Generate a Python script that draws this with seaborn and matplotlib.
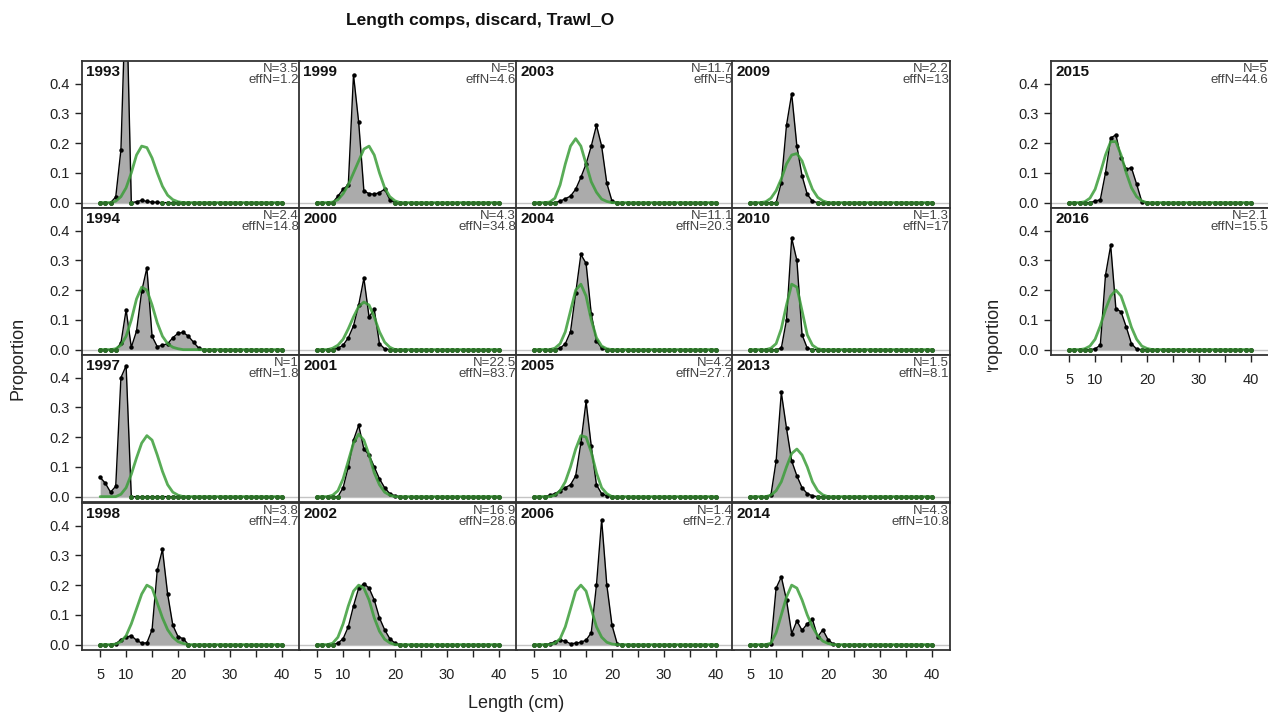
import matplotlib
matplotlib.use("Agg")
import pandas as pd
import matplotlib.pyplot as plt
import seaborn as sns

# Length bins (cm)
bins = list(range(5, 41))

# Panel layout: columns of years, plus the two extra years on the right
col_years = [[1993, 1994, 1997, 1998],
             [1999, 2000, 2001, 2002],
             [2003, 2004, 2005, 2006],
             [2009, 2010, 2013, 2014]]
right_years = [2015, 2016]

n_labels = {1993: "3.5", 1994: "2.4", 1997: "1", 1998: "3.8",
            1999: "5", 2000: "4.3", 2001: "22.5", 2002: "16.9",
            2003: "11.7", 2004: "11.1", 2005: "4.2", 2006: "1.4",
            2009: "2.2", 2010: "1.3", 2013: "1.5", 2014: "4.3",
            2015: "5", 2016: "2.1"}
effn_labels = {1993: "1.2", 1994: "14.8", 1997: "1.8", 1998: "4.7",
               1999: "4.6", 2000: "34.8", 2001: "83.7", 2002: "28.6",
               2003: "5", 2004: "20.3", 2005: "27.7", 2006: "2.7",
               2009: "13", 2010: "17", 2013: "8.1", 2014: "10.8",
               2015: "44.6", 2016: "15.5"}

# Observed proportions: (first bin, values from that bin on; rest are zero)
obs = {
    1993: (8, [0.019, 0.177, 0.75, 0.0, 0.003, 0.008, 0.004, 0.002, 0.001]),
    1994: (9, [0.022, 0.134, 0.008, 0.062, 0.196, 0.275, 0.045, 0.010, 0.015,
               0.020, 0.040, 0.055, 0.058, 0.045, 0.025, 0.005]),
    1997: (5, [0.065, 0.045, 0.015, 0.035, 0.40, 0.44]),
    1998: (8, [0.003, 0.017, 0.025, 0.030, 0.015, 0.005, 0.006, 0.050, 0.25,
               0.32, 0.17, 0.065, 0.027, 0.020]),
    1999: (9, [0.022, 0.045, 0.060, 0.43, 0.27, 0.040, 0.030, 0.028, 0.034,
               0.045, 0.010]),
    2000: (9, [0.005, 0.015, 0.040, 0.080, 0.150, 0.24, 0.110, 0.135, 0.020,
               0.003]),
    2001: (10, [0.030, 0.100, 0.190, 0.24, 0.160, 0.140, 0.100, 0.060, 0.030,
                0.010, 0.003]),
    2002: (9, [0.005, 0.020, 0.060, 0.130, 0.190, 0.205, 0.190, 0.150, 0.090,
               0.050, 0.020, 0.005]),
    2003: (10, [0.005, 0.013, 0.022, 0.045, 0.085, 0.130, 0.190, 0.26, 0.190,
                0.065, 0.005]),
    2004: (10, [0.005, 0.020, 0.060, 0.190, 0.32, 0.29, 0.120, 0.030, 0.005]),
    2005: (8, [0.005, 0.010, 0.020, 0.030, 0.040, 0.070, 0.180, 0.32, 0.170,
               0.040, 0.010, 0.003]),
    2006: (8, [0.003, 0.010, 0.015, 0.012, 0.003, 0.005, 0.008, 0.015, 0.040,
               0.20, 0.42, 0.20, 0.065, 0.003]),
    2009: (10, [0.0, 0.067, 0.26, 0.366, 0.19, 0.090, 0.028, 0.005]),
    2010: (11, [0.005, 0.100, 0.375, 0.30, 0.050, 0.005]),
    2013: (9, [0.005, 0.120, 0.35, 0.230, 0.120, 0.070, 0.030, 0.010, 0.003]),
    2014: (9, [0.003, 0.19, 0.228, 0.150, 0.037, 0.080, 0.048, 0.070, 0.085,
               0.026, 0.050, 0.017, 0.002]),
    2015: (10, [0.005, 0.010, 0.100, 0.217, 0.228, 0.150, 0.113, 0.117, 0.062,
                0.003]),
    2016: (10, [0.003, 0.015, 0.25, 0.35, 0.138, 0.127, 0.076, 0.020, 0.002]),
}

# Expected proportions (model fit)
exp = {
    1993: (8, [0.005, 0.02, 0.05, 0.10, 0.16, 0.19, 0.185, 0.15, 0.10, 0.055,
               0.025, 0.01, 0.003]),
    1994: (8, [0.003, 0.015, 0.045, 0.10, 0.17, 0.21, 0.20, 0.15, 0.09, 0.045,
               0.02, 0.008, 0.003]),
    1997: (9, [0.008, 0.03, 0.075, 0.13, 0.18, 0.205, 0.19, 0.14, 0.085, 0.04,
               0.015, 0.005]),
    1998: (8, [0.002, 0.01, 0.03, 0.07, 0.12, 0.17, 0.20, 0.19, 0.14, 0.09,
               0.05, 0.025, 0.01, 0.004]),
    1999: (8, [0.002, 0.01, 0.03, 0.06, 0.10, 0.14, 0.18, 0.19, 0.16, 0.10,
               0.05, 0.02, 0.006]),
    2000: (8, [0.005, 0.015, 0.035, 0.07, 0.11, 0.145, 0.16, 0.15, 0.11, 0.06,
               0.025, 0.008]),
    2001: (8, [0.005, 0.02, 0.06, 0.12, 0.18, 0.21, 0.19, 0.14, 0.08, 0.04,
               0.015, 0.005]),
    2002: (8, [0.005, 0.025, 0.07, 0.13, 0.18, 0.20, 0.19, 0.15, 0.09, 0.045,
               0.018, 0.006]),
    2003: (8, [0.002, 0.015, 0.06, 0.13, 0.19, 0.215, 0.19, 0.13, 0.07, 0.035,
               0.012, 0.004]),
    2004: (9, [0.005, 0.02, 0.06, 0.13, 0.20, 0.22, 0.18, 0.10, 0.04, 0.012,
               0.003]),
    2005: (9, [0.005, 0.02, 0.05, 0.10, 0.16, 0.205, 0.20, 0.15, 0.08, 0.03,
               0.01]),
    2006: (9, [0.005, 0.02, 0.06, 0.12, 0.18, 0.20, 0.18, 0.12, 0.06, 0.025,
               0.008, 0.002]),
    2009: (8, [0.003, 0.015, 0.04, 0.08, 0.13, 0.16, 0.165, 0.14, 0.09, 0.045,
               0.018, 0.006]),
    2010: (9, [0.005, 0.02, 0.07, 0.15, 0.22, 0.21, 0.13, 0.05, 0.015, 0.003]),
    2013: (9, [0.005, 0.02, 0.05, 0.10, 0.145, 0.16, 0.14, 0.10, 0.05, 0.02,
               0.006]),
    2014: (9, [0.005, 0.04, 0.10, 0.16, 0.20, 0.19, 0.15, 0.10, 0.06, 0.03,
               0.012, 0.004]),
    2015: (8, [0.003, 0.015, 0.045, 0.10, 0.16, 0.205, 0.205, 0.16, 0.10, 0.05,
               0.02, 0.006]),
    2016: (8, [0.003, 0.012, 0.035, 0.08, 0.135, 0.18, 0.20, 0.18, 0.13, 0.075,
               0.035, 0.012, 0.004]),
}


def full(start, vals):
    out = [0.0] * len(bins)
    for i, v in enumerate(vals):
        out[start - bins[0] + i] = v
    return out


sns.set_style("white")
plt.rcParams['font.family'] = ['Liberation Sans', 'DejaVu Sans']

W, H = 1268, 718
fig = plt.figure(figsize=(W / 100, H / 100), dpi=100)

col_left = [82, 299, 516, 732]
row_top = [61, 208, 355, 503]
pw, ph = 218, 147

green = '#3c9e3a'
dark_green = '#2b6e27'
gray_fill = '#ababab'
txt_col = '#222222'
xlabels = ['5', '10', '', '20', '', '30', '', '40']


def draw_panel(ax, year, left_col, bottom_row):
    o = full(*obs[year])
    e = full(*exp[year])
    df = pd.DataFrame({'len': bins, 'obs': o, 'exp': e})
    zero_idx = [i for i, v in enumerate(o) if v == 0]
    ax.axhline(0, color='#c4c4c4', lw=1, zorder=0)
    ax.fill_between(df['len'], 0, df['obs'], color=gray_fill, lw=0, zorder=1)
    sns.lineplot(data=df, x='len', y='obs', ax=ax, color='black', lw=1,
                 marker='o', markersize=3.2, markeredgewidth=0, zorder=2)
    sns.lineplot(data=df, x='len', y='exp', ax=ax, color=green, lw=2,
                 alpha=0.85, zorder=3)
    ax.plot(df['len'], df['obs'], ls='none', marker='o', markersize=3.6,
            markeredgewidth=0, color=dark_green, markevery=zero_idx, zorder=4)
    ax.set_xlim(1.5, 43.5)
    ax.set_ylim(-0.018, 0.476)
    ax.set_xlabel('')
    ax.set_ylabel('')
    for s in ax.spines.values():
        s.set_color('#333333')
        s.set_linewidth(1.3)
    ax.text(0.02, 0.975, str(year), transform=ax.transAxes, ha='left',
            va='top', fontsize=11, fontweight='bold', color='#111111')
    ax.text(0.995, 0.985, 'N=' + n_labels[year] + '\neffN=' + effn_labels[year],
            transform=ax.transAxes, ha='right', va='top', fontsize=9.5,
            color='#444444', linespacing=0.92)
    ax.set_xticks([5, 10, 15, 20, 25, 30, 35, 40])
    ax.set_yticks([0.0, 0.1, 0.2, 0.3, 0.4])
    ax.tick_params(axis='x', bottom=bottom_row, labelbottom=bottom_row,
                   length=5, width=1, direction='out', pad=8, colors=txt_col,
                   labelsize=10.5)
    ax.tick_params(axis='y', left=left_col, labelleft=left_col, length=5,
                   width=1, direction='out', pad=4, colors=txt_col,
                   labelsize=10.5)
    if bottom_row:
        ax.set_xticklabels(xlabels)
    if left_col:
        ax.set_yticklabels(['0.0', '0.1', '0.2', '0.3', '0.4'])


for c, years in enumerate(col_years):
    for r, year in enumerate(years):
        ax = fig.add_axes([col_left[c] / W, 1 - (row_top[r] + ph) / H, pw / W, ph / H])
        draw_panel(ax, year, c == 0, r == 3)

for r, year in enumerate(right_years):
    ax = fig.add_axes([1051 / W, 1 - (row_top[r] + ph) / H, 218 / W, ph / H])
    draw_panel(ax, year, True, r == 1)

fig.text(480 / W, 1 - 21 / H, 'Length comps, discard, Trawl_O', ha='center',
         va='center', fontsize=12.5, fontweight='bold', color='#111111')
fig.text(516 / W, 1 - 704 / H, 'Length (cm)', ha='center', va='center',
         fontsize=13, color=txt_col)
fig.text(18 / W, 1 - 358 / H, 'Proportion', ha='center', va='center',
         rotation=90, fontsize=13, color=txt_col)

# clipped y label of the right-hand block
clip_ax = fig.add_axes([975 / W, 1 - 372 / H, 60 / W, 372 / H])
clip_ax.axis('off')
clip_ax.text(993 / W, 1 - 338 / H, 'Proportion', transform=fig.transFigure,
             ha='center', va='center', rotation=90, fontsize=13, color=txt_col,
             clip_on=True)

fig.savefig('out.png', dpi=100)
